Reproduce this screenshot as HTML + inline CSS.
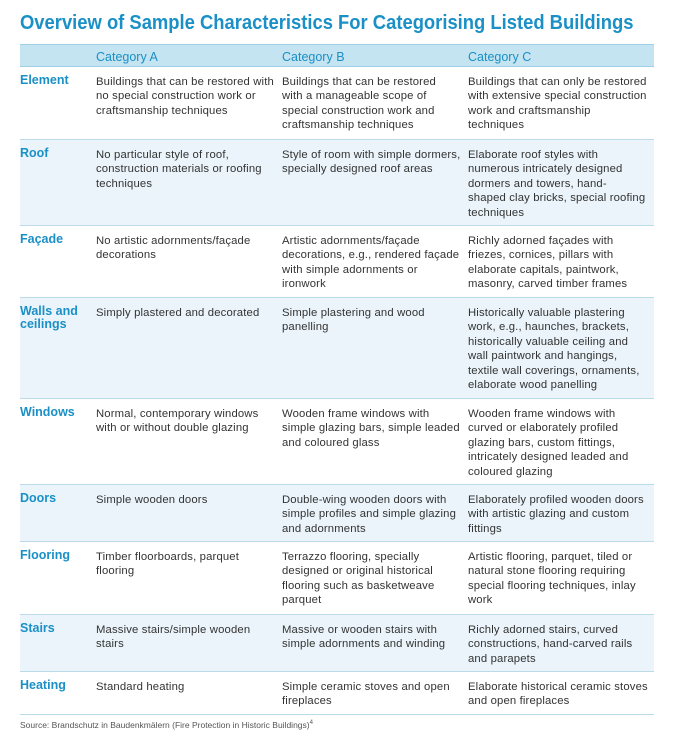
<!DOCTYPE html>
<html><head><meta charset="utf-8"><style>
body{margin:0;width:674px;height:740px;background:#fff;font-family:"Liberation Sans",sans-serif;position:relative;overflow:hidden}
h1{position:absolute;left:20px;top:12px;margin:0;font-size:20px;font-weight:bold;color:#1a90c6;white-space:nowrap;transform:scaleX(0.92);transform-origin:0 0}
table{position:absolute;left:20px;top:44px;width:634px;border-collapse:collapse;table-layout:fixed}
td,th{vertical-align:top;padding:8px 0 0 0;font-size:11.3px;letter-spacing:0.15px;line-height:14.4px;color:#333;text-align:left;font-weight:normal;white-space:nowrap}
th{background:#c4e4f1;color:#1a90c6;font-size:12.5px;letter-spacing:0;height:16px;padding-top:5px;border-top:1px solid #9fd0e6;border-bottom:1px solid #9fd0e6}
td.l{color:#1a90c6;font-size:12.5px;letter-spacing:0;font-weight:bold;padding-top:7px;line-height:13px}
tr.b td{background:#eaf4fa}
tr+tr td{border-top:1px solid #bcdbe9}
tr:last-child td{border-bottom:1px solid #bcdbe9}
.src{position:absolute;left:20px;top:720px;font-size:8.5px;color:#555}
</style></head><body>
<h1>Overview of Sample Characteristics For Categorising Listed Buildings</h1>
<table>
<colgroup><col style="width:76px"><col style="width:186px"><col style="width:186px"><col style="width:186px"></colgroup>
<tr><th></th><th>Category A</th><th>Category B</th><th>Category C</th></tr>
<tr style="height:73px"><td class="l">Element</td><td>Buildings that can be restored with<br>no special construction work or<br>craftsmanship techniques</td><td>Buildings that can be restored<br>with a manageable scope of<br>special construction work and<br>craftsmanship techniques</td><td>Buildings that can only be restored<br>with extensive special construction<br>work and craftsmanship<br>techniques</td></tr>
<tr class="b" style="height:86px"><td class="l">Roof</td><td>No particular style of roof,<br>construction materials or roofing<br>techniques</td><td>Style of room with simple dormers,<br>specially designed roof areas</td><td>Elaborate roof styles with<br>numerous intricately designed<br>dormers and towers, hand-<br>shaped clay bricks, special roofing<br>techniques</td></tr>
<tr style="height:72px"><td class="l">Façade</td><td>No artistic adornments/façade<br>decorations</td><td>Artistic adornments/façade<br>decorations, e.g., rendered façade<br>with simple adornments or<br>ironwork</td><td>Richly adorned façades with<br>friezes, cornices, pillars with<br>elaborate capitals, paintwork,<br>masonry, carved timber frames</td></tr>
<tr class="b" style="height:101px"><td class="l">Walls and<br>ceilings</td><td>Simply plastered and decorated</td><td>Simple plastering and wood<br>panelling</td><td>Historically valuable plastering<br>work, e.g., haunches, brackets,<br>historically valuable ceiling and<br>wall paintwork and hangings,<br>textile wall coverings, ornaments,<br>elaborate wood panelling</td></tr>
<tr style="height:86px"><td class="l">Windows</td><td>Normal, contemporary windows<br>with or without double glazing</td><td>Wooden frame windows with<br>simple glazing bars, simple leaded<br>and coloured glass</td><td>Wooden frame windows with<br>curved or elaborately profiled<br>glazing bars, custom fittings,<br>intricately designed leaded and<br>coloured glazing</td></tr>
<tr class="b" style="height:57px"><td class="l">Doors</td><td>Simple wooden doors</td><td>Double-wing wooden doors with<br>simple profiles and simple glazing<br>and adornments</td><td>Elaborately profiled wooden doors<br>with artistic glazing and custom<br>fittings</td></tr>
<tr style="height:73px"><td class="l">Flooring</td><td>Timber floorboards, parquet<br>flooring</td><td>Terrazzo flooring, specially<br>designed or original historical<br>flooring such as basketweave<br>parquet</td><td>Artistic flooring, parquet, tiled or<br>natural stone flooring requiring<br>special flooring techniques, inlay<br>work</td></tr>
<tr class="b" style="height:57px"><td class="l">Stairs</td><td>Massive stairs/simple wooden<br>stairs</td><td>Massive or wooden stairs with<br>simple adornments and winding</td><td>Richly adorned stairs, curved<br>constructions, hand-carved rails<br>and parapets</td></tr>
<tr style="height:43px"><td class="l">Heating</td><td>Standard heating</td><td>Simple ceramic stoves and open<br>fireplaces</td><td>Elaborate historical ceramic stoves<br>and open fireplaces</td></tr>
</table>
<div class="src">Source: Brandschutz in Baudenkmälern (Fire Protection in Historic Buildings)<sup style="font-size:6px">4</sup></div>
</body></html>
